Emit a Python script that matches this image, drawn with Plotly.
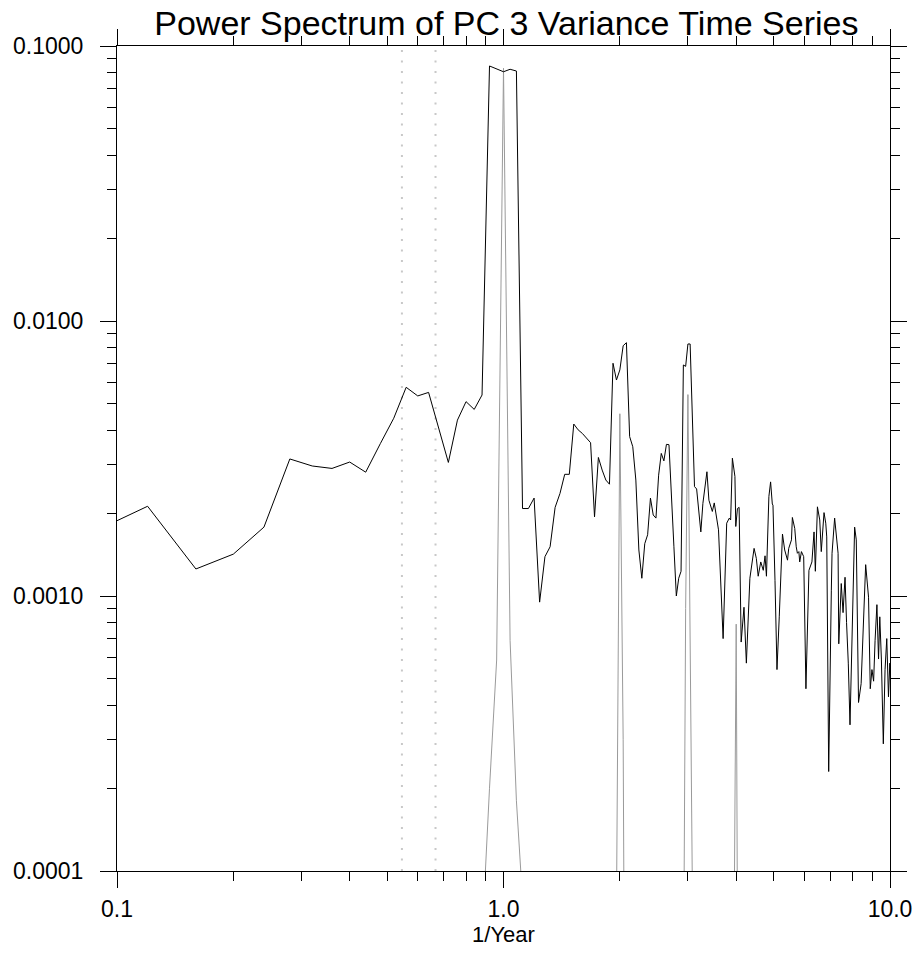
import plotly.graph_objects as go

# ---- data ----
freq_black = [0.08, 0.12, 0.16, 0.20, 0.24, 0.28, 0.32, 0.36, 0.40, 0.44, 0.48, 0.52, 0.56, 0.60, 0.64,
              0.68, 0.72, 0.76, 0.80, 0.84, 0.88, 0.92, 0.96, 1.00, 1.04, 1.08, 1.12, 1.16, 1.20, 1.24,
              1.28, 1.32, 1.36, 1.40, 1.44, 1.48, 1.52, 1.56, 1.60, 1.64, 1.68, 1.72, 1.76, 1.80, 1.84,
              1.88, 1.92, 1.96, 2.00, 2.04, 2.08, 2.12, 2.16, 2.20, 2.24, 2.28, 2.32, 2.36, 2.40, 2.44,
              2.48, 2.52, 2.56, 2.60, 2.64, 2.68, 2.72, 2.76, 2.80, 2.84, 2.88, 2.92, 2.96, 3.00, 3.04,
              3.08, 3.12, 3.16, 3.20, 3.24, 3.28, 3.32, 3.36, 3.40, 3.47, 3.51, 3.60, 3.70, 3.78, 3.84,
              3.87, 3.91, 3.97, 3.99, 4.03, 4.07, 4.12, 4.19, 4.25, 4.34, 4.38, 4.45, 4.51, 4.56, 4.63,
              4.70, 4.75, 4.79, 4.86, 4.91, 4.96, 4.98, 5.04, 5.10, 5.17, 5.27, 5.34, 5.43, 5.47, 5.56,
              5.59, 5.67, 5.72, 5.76, 5.81, 5.84, 5.90, 5.98, 6.06, 6.17, 6.28, 6.36, 6.41, 6.49, 6.58,
              6.64, 6.75, 6.82, 6.86, 6.94, 7.05, 7.08, 7.19, 7.30, 7.34, 7.37, 7.44, 7.48, 7.56, 7.65,
              7.72, 7.80, 7.88, 7.97, 8.10, 8.18, 8.29, 8.42, 8.54, 8.65, 8.80, 8.89, 8.98, 9.07, 9.15,
              9.25, 9.34, 9.41, 9.50, 9.61, 9.71, 9.81, 9.91, 9.99, 10.04]
power_black = [0.00162, 0.00212, 0.001254, 0.00142, 0.00178, 0.00315, 0.00297, 0.00291, 0.00307, 0.00282,
               0.00358, 0.00443, 0.00574, 0.00534, 0.00550, 0.00402, 0.00306, 0.00436, 0.00509, 0.00477,
               0.00538, 0.0846, 0.0823, 0.0806, 0.0823, 0.0811, 0.00208, 0.00208, 0.00227, 0.00095,
               0.00139, 0.00151, 0.00210, 0.00236, 0.00277, 0.00277, 0.00422, 0.00402, 0.00390, 0.00375,
               0.00361, 0.00194, 0.00319, 0.00287, 0.00264, 0.00255, 0.00702, 0.00610, 0.00664, 0.00813,
               0.00834, 0.00380, 0.00349, 0.00264, 0.00147, 0.00116, 0.00155, 0.00167, 0.00227, 0.00197,
               0.00192, 0.00275, 0.00330, 0.00310, 0.00356, 0.00355, 0.00243, 0.00151, 0.00100, 0.00116,
               0.00123, 0.00692, 0.00684, 0.00825, 0.00825, 0.00400, 0.00250, 0.00245, 0.00197, 0.00171,
               0.00217, 0.00250, 0.00283, 0.00223, 0.00203, 0.00218, 0.00174, 0.00070, 0.00184, 0.00192,
               0.00189, 0.00317, 0.00272, 0.00179, 0.00208, 0.00210, 0.00068, 0.00091, 0.00057, 0.00116,
               0.00126, 0.00149, 0.00137, 0.00118, 0.00133, 0.00124, 0.00140, 0.00118, 0.00230, 0.00260,
               0.00216, 0.00214, 0.00114, 0.00054, 0.00084, 0.00168, 0.00147, 0.00135, 0.00149, 0.00160,
               0.00193, 0.00176, 0.00151, 0.00143, 0.00145, 0.00133, 0.00145, 0.00139, 0.00046, 0.00124,
               0.00133, 0.00171, 0.00123, 0.00211, 0.00189, 0.00145, 0.00201, 0.00184, 0.00164, 0.00023,
               0.00105, 0.00143, 0.00192, 0.00155, 0.00143, 0.00067, 0.00087, 0.00111, 0.00087, 0.00117,
               0.00080, 0.00057, 0.00034, 0.00072, 0.00178, 0.00160, 0.00041, 0.00048, 0.00079, 0.00130,
               0.00099, 0.00046, 0.00054, 0.00049, 0.00069, 0.00093, 0.00059, 0.00084, 0.00059, 0.00029,
               0.00054, 0.00070, 0.00043, 0.00057, 0.00050]

# reference spectrum of a pure annual cycle (grey); None separates the harmonic spikes
freq_grey = [0.88, 0.92, 0.96, 1.00, 1.04, 1.08, 1.12, None,
             1.92, 1.96, 2.00, 2.04, 2.08, None,
             2.92, 2.96, 3.00, 3.04, 3.08, 3.12, None,
             3.92, 3.96, 4.00, 4.04, 4.08]
power_grey = [5.7e-5, 2.0e-4, 5.85e-4, 0.083, 6.9e-4, 1.8e-4, 7.9e-5, None,
              1e-6, 1.0e-4, 0.0046, 3.0e-4, 1e-6, None,
              3e-5, 9e-4, 0.0054, 9e-4, 9e-5, 1e-6, None,
              1e-6, 1.0e-4, 0.00079, 1.0e-4, 1e-6]

# dotted markers (1/22 months and 1/18 months in cycles per year)
marker_freqs = [0.546, 0.667]

x_tickvals = [0.1, 1.0, 10.0]
x_ticktext = ["0.1", "1.0", "10.0"]
y_tickvals = [0.0001, 0.001, 0.01, 0.1]
y_ticktext = ["0.0001", "0.0010", "0.0100", "0.1000"]
x_minor = [0.2, 0.3, 0.4, 0.5, 0.6, 0.7, 0.8, 0.9, 2, 3, 4, 5, 6, 7, 8, 9]
y_minor = [m * 10.0 ** e for e in (-4, -3, -2) for m in range(2, 10)]

FONT = "Liberation Sans, Arial, sans-serif"

fig = go.Figure()
fig.add_trace(go.Scatter(x=freq_grey, y=power_grey, mode="lines",
                         line=dict(color="#9a9a9a", width=1), connectgaps=False,
                         showlegend=False, hoverinfo="skip"))
fig.add_trace(go.Scatter(x=freq_black, y=power_black, mode="lines",
                         line=dict(color="black", width=1), showlegend=False))

for f in marker_freqs:
    fig.add_shape(type="line", xref="x", yref="paper", x0=f, x1=f, y0=0, y1=1,
                  line=dict(color="#c8c8c8", width=2, dash="2px,8.5px"), layer="below")

axis_common = dict(showgrid=False, zeroline=False, showline=True, linecolor="black",
                   linewidth=1, ticks="outside", mirror="ticks", tickcolor="black",
                   tickwidth=1, ticklen=16, tickfont=dict(family=FONT, size=23, color="black"))

fig.update_xaxes(type="log", range=[-1, 1], tickmode="array", tickvals=x_tickvals,
                 ticktext=x_ticktext,
                 minor=dict(tickmode="array", tickvals=x_minor, ticks="outside", ticklen=9,
                            tickcolor="black", tickwidth=1),
                 title=dict(text="1/Year", font=dict(family=FONT, size=22, color="black"), standoff=4),
                 ticklabelstandoff=1, **axis_common)
fig.update_yaxes(type="log", range=[-4, -1], tickmode="array", tickvals=y_tickvals,
                 ticktext=y_ticktext,
                 minor=dict(tickmode="array", tickvals=y_minor, ticks="outside", ticklen=9,
                            tickcolor="black", tickwidth=1),
                 ticklabelstandoff=12, **axis_common)

fig.update_layout(
    width=924, height=958,
    margin=dict(l=117, r=32, t=46, b=87),
    paper_bgcolor="white", plot_bgcolor="white",
    title=dict(text="Power Spectrum of PC 3 Variance Time Series",
               font=dict(family=FONT, size=34, color="black"),
               x=0.548, xanchor="center", y=0.976, yanchor="middle", yref="container"),
)

fig.write_html("out.html", config={"displayModeBar": False},
               post_script="document.body.style.margin='0';document.body.style.overflow='hidden';")
